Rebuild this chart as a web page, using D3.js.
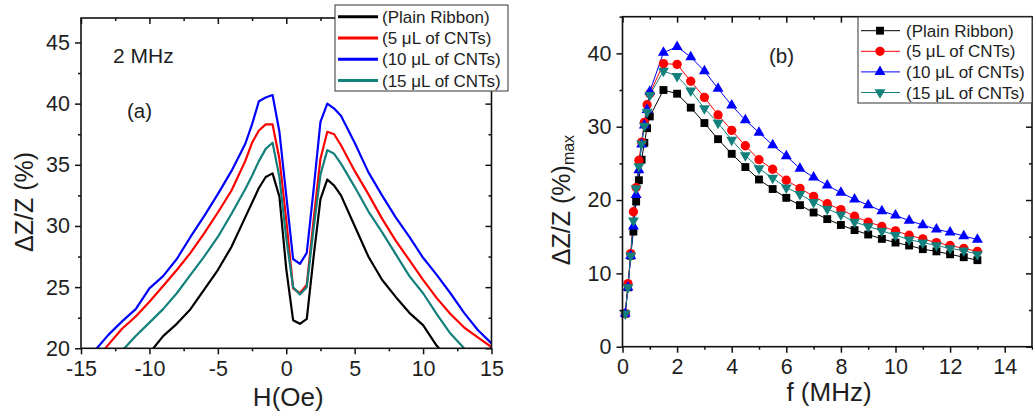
<!DOCTYPE html>
<html><head><meta charset="utf-8">
<script src="https://cdn.jsdelivr.net/npm/d3@7"></script>
<style>
html,body{margin:0;padding:0;background:#fff;}
svg{display:block;font-family:"Liberation Sans",Arial,sans-serif;}
</style></head><body>
<svg id="chart" width="1033" height="417"></svg>
<script>
// ---------- Panel (a): ΔZ/Z vs H at 2 MHz ----------
const fieldH = [-15,-14,-13,-12,-11,-10,-9,-8,-7,-6,-5,-4,-3,-2.5,-2,-1.5,-1,-0.5,0,0.5,1,1.5,2,2.5,3,3.5,4,5,6,7,8,9,10,11,12,13,14,15];
const aPlain = [15.0,16.2,17.3,18.3,19.2,19.6,21.0,22.0,23.2,24.8,26.4,28.3,30.7,31.9,33.1,34.0,34.3,32.4,26.5,22.3,22.0,22.4,27.5,32.2,33.8,33.3,32.5,30.0,27.5,25.6,24.2,22.9,21.9,20.2,19.0,17.8,16.6,15.4];
const a5uL   = [17.6,18.9,20.3,21.6,22.6,23.8,25.1,26.4,27.8,29.4,31.1,32.9,35.3,36.8,37.8,38.3,38.3,35.5,30.5,24.9,24.5,25.2,30.5,35.5,37.7,37.5,36.6,34.5,32.6,30.6,28.8,27.2,25.6,24.1,22.8,21.7,20.9,20.1];
const a10uL  = [18.6,19.8,21.1,22.2,23.2,24.9,25.9,27.3,29.1,30.8,32.6,34.5,36.7,38.3,40.2,40.5,40.7,37.7,32.5,27.3,26.9,27.8,33.0,38.5,40.0,39.6,39.0,36.8,34.4,32.5,30.7,29.1,27.4,26.0,24.5,22.9,21.5,20.4];
const a15uL  = [16.5,17.5,18.7,19.8,21.0,22.1,23.2,24.5,26.0,27.5,29.1,31.0,33.0,34.1,35.3,36.3,36.8,34.0,29.0,25.0,24.4,25.0,29.8,34.2,36.2,35.9,35.1,33.2,31.2,29.5,27.7,25.9,24.5,22.8,21.2,20.0,19.0,18.0];

// ---------- Panel (b): (ΔZ/Z)max vs f ----------
const freq = [0.1,0.2,0.3,0.4,0.5,0.6,0.7,0.8,0.9,1.0,1.5,2,2.5,3,3.5,4,4.5,5,5.5,6,6.5,7,7.5,8,8.5,9,9.5,10,10.5,11,11.5,12,12.5,13];
const bPlain = [4.5,8.1,12.4,15.7,19.8,22.7,25.5,27.8,29.8,31.4,35.0,34.5,32.6,30.5,28.3,26.3,24.5,22.8,21.5,20.3,19.3,18.3,17.4,16.6,15.9,15.3,14.7,14.2,13.8,13.3,13.0,12.6,12.2,11.8];
const b5uL   = [4.5,8.6,12.7,18.4,21.7,25.4,27.9,30.6,33.0,34.5,38.6,38.5,36.2,34.0,31.6,29.5,27.4,25.5,24.2,22.7,21.6,20.5,19.5,18.7,17.8,17.0,16.4,15.8,15.2,14.7,14.2,13.8,13.4,13.0];
const b10uL  = [4.5,8.1,12.4,16.4,20.7,24.1,27.6,30.2,32.3,34.8,40.1,40.9,39.5,37.6,35.2,32.9,30.9,29.2,27.5,26.0,24.3,23.1,22.0,21.0,20.1,19.3,18.5,17.9,17.2,16.6,16.0,15.6,15.1,14.6];
const b15uL  = [4.5,8.1,12.4,17.2,21.6,24.6,27.7,30.1,32.0,34.3,37.6,36.9,34.9,32.5,30.5,28.2,26.1,24.3,23.0,21.7,20.8,19.7,18.8,18.0,17.0,16.4,15.8,15.2,14.6,14.2,13.8,13.4,13.1,12.6];

const seriesNames = ["(Plain Ribbon)","(5 μL of CNTs)","(10 μL of CNTs)","(15 μL of CNTs)"];
const seriesColors = ["#000000","#ff0000","#0000ff","#12807c"];

const aTicksX = [-15,-10,-5,0,5,10,15];
const aTicksY = [20,25,30,35,40,45];
const bTicksX = [0,2,4,6,8,10,12,14];
const bTicksY = [0,10,20,30,40];

const svg = d3.select("#chart");
const textColor = "#1e1e1e";
const tickFont = 21.5;

function frame(g, x, y, majX, minX, majY, minY, x0, x1, y0, y1){
  const fmt = d => String(d);
  g.append("g").attr("transform",`translate(0,${y0})`)
    .call(d3.axisBottom(x).tickValues(minX).tickSize(3).tickFormat("")).call(s=>s.select(".domain").remove());
  const bx = g.append("g").attr("transform",`translate(0,${y0})`)
    .call(d3.axisBottom(x).tickValues(majX).tickSize(6).tickPadding(6).tickFormat(fmt));
  bx.select(".domain").remove();
  bx.selectAll("text").attr("font-size",tickFont).attr("fill",textColor).attr("font-family","Liberation Sans, Arial, sans-serif");
  g.append("g").attr("transform",`translate(${x0},0)`)
    .call(d3.axisLeft(y).tickValues(minY).tickSize(3).tickFormat("")).call(s=>s.select(".domain").remove());
  const ly = g.append("g").attr("transform",`translate(${x0},0)`)
    .call(d3.axisLeft(y).tickValues(majY).tickSize(6).tickPadding(5));
  ly.select(".domain").remove();
  ly.selectAll("text").attr("font-size",tickFont).attr("fill",textColor).attr("font-family","Liberation Sans, Arial, sans-serif");
  g.append("g").attr("transform",`translate(0,${y1})`)
    .call(d3.axisBottom(x).tickValues(majX).tickSize(6).tickFormat("")).call(s=>s.select(".domain").remove());
  g.append("g").attr("transform",`translate(0,${y1})`)
    .call(d3.axisBottom(x).tickValues(minX).tickSize(3).tickFormat("")).call(s=>s.select(".domain").remove());
  g.append("g").attr("transform",`translate(${x1},0)`)
    .call(d3.axisLeft(y).tickValues(majY).tickSize(6).tickFormat("")).call(s=>s.select(".domain").remove());
  g.append("g").attr("transform",`translate(${x1},0)`)
    .call(d3.axisLeft(y).tickValues(minY).tickSize(3).tickFormat("")).call(s=>s.select(".domain").remove());
  g.selectAll(".tick line").attr("stroke","#111").attr("stroke-width",1.5);
  g.append("rect").attr("x",x0).attr("y",y1).attr("width",x1-x0).attr("height",y0-y1)
    .attr("fill","none").attr("stroke","#111").attr("stroke-width",1.6);
}

// ===== Panel (a) =====
{
  const x0=81, x1=491.5, y0=348.3, y1=18;
  const x = d3.scaleLinear().domain([-15,15]).range([x0,x1]);
  const y = d3.scaleLinear().domain([20,47]).range([y0,y1]);
  const g = svg.append("g");
  g.append("clipPath").attr("id","clipA").append("rect")
    .attr("x",x0).attr("y",y1).attr("width",x1-x0).attr("height",y0-y1);
  const data = [aPlain,a5uL,a10uL,a15uL];
  const line = d3.line().x((d,i)=>x(fieldH[i])).y(d=>y(d));
  data.forEach((s,k)=>{
    g.append("path").attr("d",line(s)).attr("fill","none")
      .attr("stroke",seriesColors[k]).attr("stroke-width",2.2)
      .attr("stroke-linejoin","round").attr("clip-path","url(#clipA)");
  });
  frame(g,x,y,aTicksX,[-12.5,-7.5,-2.5,2.5,7.5,12.5],aTicksY,[22.5,27.5,32.5,37.5,42.5],x0,x1,y0,y1);
  g.append("text").attr("x",113).attr("y",63).attr("font-size",21).attr("fill",textColor).text("2 MHz");
  g.append("text").attr("x",127).attr("y",118).attr("font-size",20.5).attr("fill",textColor).text("(a)");
  g.append("text").attr("x",(x0+x1)/2+2).attr("y",406).attr("text-anchor","middle")
    .attr("font-size",26).attr("fill",textColor).text("H(Oe)");
  g.append("text").attr("transform","translate(33,202) rotate(-90)").attr("text-anchor","middle")
    .attr("font-size",25).attr("fill",textColor).text("ΔZ/Z (%)");
  const lg = g.append("g");
  lg.append("rect").attr("x",335).attr("y",5).attr("width",173).attr("height",86)
    .attr("fill","#fff").attr("stroke","#333").attr("stroke-width",1);
  seriesNames.forEach((n,k)=>{
    const cy = 16.7 + k*21.3;
    lg.append("line").attr("x1",338).attr("x2",378).attr("y1",cy).attr("y2",cy)
      .attr("stroke",seriesColors[k]).attr("stroke-width",3);
    lg.append("text").attr("x",382).attr("y",cy+6).attr("font-size",17).attr("fill",textColor).text(n);
  });
}

// ===== Panel (b) =====
{
  const x0=622.5, x1=1032, y0=346.7, y1=16.7;
  const x = d3.scaleLinear().domain([0,15]).range([x0,x1]);
  const y = d3.scaleLinear().domain([0,45]).range([y0,y1]);
  const g = svg.append("g");
  const data = [bPlain,b5uL,b10uL,b15uL];
  const symbols = [
    d3.symbol().type(d3.symbolSquare).size(62),
    d3.symbol().type(d3.symbolCircle).size(68),
    d3.symbol().type(d3.symbolTriangle).size(52),
    d3.symbol().type(d3.symbolTriangle).size(52)
  ];
  const line = d3.line().x((d,i)=>x(freq[i])).y(d=>y(d));
  data.forEach((s,k)=>{
    g.append("path").attr("d",line(s)).attr("fill","none")
      .attr("stroke",seriesColors[k]).attr("stroke-width",1);
  });
  data.forEach((s,k)=>{
    g.append("g").selectAll("path").data(s).join("path")
      .attr("d",symbols[k]())
      .attr("transform",(d,i)=>`translate(${x(freq[i])},${y(d)})${k===3?" rotate(180)":""}`)
      .attr("fill",seriesColors[k]);
  });
  frame(g,x,y,bTicksX,[1,3,5,7,9,11,13,15],bTicksY,[5,15,25,35,45],x0,x1,y0,y1);
  g.append("text").attr("x",769).attr("y",63).attr("font-size",20.5).attr("fill",textColor).text("(b)");
  g.append("text").attr("x",829).attr("y",401).attr("text-anchor","middle")
    .attr("font-size",26).attr("fill",textColor).text("f (MHz)");
  const yl = g.append("text").attr("transform","translate(570,200) rotate(-90)").attr("text-anchor","middle")
    .attr("font-size",25).attr("fill",textColor);
  yl.append("tspan").text("ΔZ/Z (%)");
  yl.append("tspan").attr("font-size",16).attr("dy",4).text("max");
  const lg = g.append("g");
  lg.append("rect").attr("x",858).attr("y",17).attr("width",174).attr("height",86)
    .attr("fill","#fff").attr("stroke","#333").attr("stroke-width",1);
  seriesNames.forEach((n,k)=>{
    const cy = 30.7 + k*20.6;
    lg.append("line").attr("x1",861).attr("x2",900).attr("y1",cy).attr("y2",cy)
      .attr("stroke",seriesColors[k]).attr("stroke-width",1);
    lg.append("path").attr("d",symbols[k]())
      .attr("transform",`translate(880,${cy})${k===3?" rotate(180)":""}`).attr("fill",seriesColors[k]);
    lg.append("text").attr("x",906).attr("y",cy+6).attr("font-size",17).attr("fill",textColor).text(n);
  });
}
</script>
</body></html>
